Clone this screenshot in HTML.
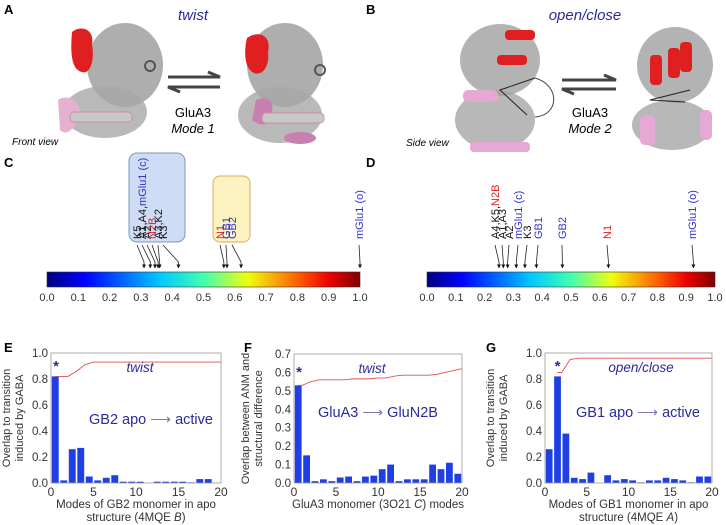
<!DOCTYPE html>
<html><head><meta charset="utf-8">
<style>
html,body{margin:0;padding:0;background:#fff;}
svg{display:block;font-family:"Liberation Sans",Arial,sans-serif;}
</style></head>
<body>
<svg id="fig" width="726" height="525" viewBox="0 0 726 525">
<defs>
<linearGradient id="jet" x1="0" x2="1" y1="0" y2="0">
<stop offset="0" stop-color="#00007f"/><stop offset="0.12" stop-color="#0000ff"/>
<stop offset="0.36" stop-color="#00c8ff"/><stop offset="0.5" stop-color="#40ffb0"/>
<stop offset="0.64" stop-color="#f0ff10"/><stop offset="0.8" stop-color="#ff6000"/>
<stop offset="0.9" stop-color="#ee0000"/><stop offset="1" stop-color="#7f0000"/>
</linearGradient>
<marker id="ah" viewBox="0 0 10 10" refX="9" refY="5" markerWidth="5" markerHeight="5" orient="auto"><path d="M0,0L10,5L0,10z" fill="#111"/></marker>
</defs>

<g>
<text x="4" y="14" font-size="13" font-weight="bold">A</text>
<text x="193" y="20" font-size="15" font-style="italic" fill="#2a2a9a" text-anchor="middle">twist</text>
<g>
<ellipse cx="125" cy="65" rx="38" ry="42" fill="#9a9a9a" opacity="0.8"/>
<ellipse cx="105" cy="112" rx="42" ry="26" fill="#a8a8a8" opacity="0.8"/>
<path d="M72,32 C80,25 95,28 92,45 C95,60 90,75 82,72 C72,70 70,55 72,32z" fill="#e02020"/>
<path d="M58,100 C65,95 78,98 80,110 C78,125 68,138 60,130z" fill="#e6b0d0"/>
<rect x="70" y="112" width="62" height="10" rx="4" fill="#c8c8c8" stroke="#d090a0"/>
<circle cx="150" cy="66" r="5" fill="none" stroke="#555" stroke-width="2"/>
</g>
<g>
<ellipse cx="285" cy="65" rx="38" ry="42" fill="#9a9a9a" opacity="0.8"/>
<ellipse cx="280" cy="115" rx="42" ry="28" fill="#a8a8a8" opacity="0.8"/>
<path d="M247,38 C258,30 272,35 268,52 C270,66 262,78 252,72 C244,66 244,50 247,38z" fill="#e02020"/>
<path d="M256,100 C265,95 275,100 272,112 C270,125 262,128 252,120z" fill="#c880b0"/>
<rect x="262" y="113" width="62" height="10" rx="4" fill="#c8c8c8" stroke="#d090a0"/>
<ellipse cx="300" cy="138" rx="16" ry="6" fill="#c880b0"/>
<circle cx="320" cy="70" r="5" fill="none" stroke="#555" stroke-width="2"/>
</g>
<g>
<path d="M168,77 L220,77 L208,72" fill="none" stroke="#444" stroke-width="3"/>
<path d="M220,87 L168,87 L180,92" fill="none" stroke="#444" stroke-width="3"/>
</g>
<text x="193" y="117" font-size="13" text-anchor="middle">GluA3</text>
<text x="193" y="133" font-size="13" font-style="italic" text-anchor="middle">Mode 1</text>
<text x="12" y="145" font-size="10" font-style="italic">Front view</text>
</g>

<g>
<text x="366" y="14" font-size="13" font-weight="bold">B</text>
<text x="585" y="20" font-size="15" font-style="italic" fill="#2a2a9a" text-anchor="middle">open/close</text>
<g>
<ellipse cx="500" cy="60" rx="40" ry="36" fill="#9a9a9a" opacity="0.75"/>
<ellipse cx="495" cy="120" rx="40" ry="30" fill="#a0a0a0" opacity="0.75"/>
<rect x="505" y="30" width="30" height="10" rx="4" fill="#e02020"/>
<rect x="497" y="55" width="30" height="10" rx="4" fill="#e02020"/>
<rect x="463" y="90" width="35" height="12" rx="5" fill="#e6a8d4"/>
<rect x="470" y="142" width="60" height="10" rx="4" fill="#e6a8d4"/>
<path d="M535,78 L500,90 L527,115" fill="none" stroke="#222"/>
<path d="M535,78 C560,85 560,115 535,117" fill="none" stroke="#444"/>
</g>
<g>
<ellipse cx="675" cy="65" rx="38" ry="38" fill="#9a9a9a" opacity="0.75"/>
<ellipse cx="672" cy="125" rx="40" ry="25" fill="#a0a0a0" opacity="0.75"/>
<rect x="650" y="55" width="12" height="30" rx="4" fill="#e02020"/>
<rect x="668" y="48" width="12" height="30" rx="4" fill="#e02020"/>
<rect x="680" y="42" width="12" height="30" rx="4" fill="#e02020"/>
<rect x="640" y="115" width="15" height="30" rx="5" fill="#e6a8d4"/>
<rect x="700" y="110" width="12" height="30" rx="5" fill="#e6a8d4"/>
<path d="M690,90 L650,100 L685,102" fill="none" stroke="#222"/>
</g>
<g>
<path d="M562,80 L616,80 L604,75" fill="none" stroke="#444" stroke-width="3"/>
<path d="M616,89 L562,89 L574,94" fill="none" stroke="#444" stroke-width="3"/>
</g>
<text x="590" y="117" font-size="13" text-anchor="middle">GluA3</text>
<text x="590" y="133" font-size="13" font-style="italic" text-anchor="middle">Mode 2</text>
<text x="406" y="146" font-size="10" font-style="italic">Side view</text>
</g>

<text x="4" y="167" font-size="13" font-weight="bold">C</text>
<text x="366" y="167" font-size="13" font-weight="bold">D</text>
<rect x="129" y="153" width="56" height="89" rx="8" fill="#cfdcf5" stroke="#7a9ab8"/>
<rect x="213" y="176" width="37" height="66" rx="7" fill="#fdf3c0" stroke="#e0a860"/>
<rect x="47" y="272" width="313" height="15" fill="url(#jet)" stroke="#333" stroke-width="0.6"/>
<rect x="427" y="272" width="288" height="15" fill="url(#jet)" stroke="#333" stroke-width="0.6"/>
<g id="cd"></g>
<g id="charts"></g>

<text x="4" y="352" font-size="13" font-weight="bold">E</text>
<text x="244" y="352" font-size="13" font-weight="bold">F</text>
<text x="486" y="352" font-size="13" font-weight="bold">G</text>
</svg>
<script>
const NS="http://www.w3.org/2000/svg";
const cTicks=[0.0,0.1,0.2,0.3,0.4,0.5,0.6,0.7,0.8,0.9,1.0];
const cLabels=[["K5","#111"],["A1,A4,mGlu1 (c)","mix1"],["A2","#111"],["N2B","#e02020"],["A3,K2","#111"],["K3","#111"],["N1","#e02020"],["GB1","#3333cc"],["GB2","#3333cc"],["mGlu1 (o)","#3333cc"]];
const cValues=[0.31,0.33,0.345,0.355,0.36,0.42,0.565,0.575,0.62,1.0];
const cLabelX=[137,142,147,152,158,163,220,226,232,359];
const dLabels=[["A4,K5,N2B","mix2"],["A1,A3","#111"],["A2","#111"],["mGlu1 (c)","#3333cc"],["K3","#111"],["GB1","#3333cc"],["GB2","#3333cc"],["N1","#e02020"],["mGlu1 (o)","#3333cc"]];
const dValues=[0.25,0.265,0.28,0.31,0.34,0.38,0.47,0.63,0.925];
const dLabelX=[495,502,509,518,527,538,562,607,692];

function mk(tag,attrs,parent){const e=document.createElementNS(NS,tag);for(const k in attrs)e.setAttribute(k,attrs[k]);parent.appendChild(e);return e;}
const cd=document.getElementById('cd');
function colorbar(x0,w,vals,labels,lx,name){
  const sx=v=>x0+v*w;
  cTicks.forEach(t=>{const tx=mk('text',{x:sx(t),y:301,'font-size':11,'text-anchor':'middle',fill:'#333'},cd);tx.textContent=t.toFixed(1);
    
    });
  vals.forEach((v,i)=>{
    const ax=sx(v), tx=lx[i];
    const ln=mk('path',{d:`M${tx},245 L${ax},262 L${ax},268`,fill:'none',stroke:'#222','stroke-width':0.8,'marker-end':'url(#ah)'},cd);
    
    
    const t=mk('text',{x:0,y:0,'font-size':11,transform:`translate(${tx+4},239) rotate(-90)`},cd);
    
    
    const [s,c]=labels[i];
    if(c==='mix1'){t.innerHTML='<tspan fill="#111">A1,A4,</tspan><tspan fill="#3333cc">mGlu1 (c)</tspan>';}
    else if(c==='mix2'){t.innerHTML='<tspan fill="#111">A4,K5,</tspan><tspan fill="#e02020">N2B</tspan>';}
    else {t.setAttribute('fill',c);t.textContent=s;}
  });
}
colorbar(47,313,cValues,cLabels,cLabelX,'colorbar-c');
colorbar(427,288,dValues,dLabels,dLabelX,'colorbar-d');

const modes=[1,2,3,4,5,6,7,8,9,10,11,12,13,14,15,16,17,18,19,20];
const barsE=[0.82,0.02,0.26,0.27,0.05,0.02,0.04,0.06,0.01,0.01,0.01,0.0,0.01,0.01,0.01,0.01,0.005,0.03,0.03,0.0];
const cumE=[0.82,0.82,0.86,0.91,0.93,0.93,0.93,0.93,0.93,0.93,0.93,0.93,0.93,0.93,0.93,0.93,0.93,0.93,0.93,0.93];
const barsF=[0.53,0.15,0.01,0.02,0.01,0.03,0.035,0.01,0.035,0.04,0.075,0.1,0.01,0.02,0.02,0.02,0.1,0.075,0.11,0.05];
const cumF=[0.53,0.55,0.56,0.56,0.56,0.56,0.565,0.565,0.565,0.57,0.57,0.58,0.585,0.585,0.585,0.585,0.59,0.60,0.61,0.62];
const barsG=[0.26,0.82,0.38,0.04,0.03,0.08,0.0,0.06,0.02,0.03,0.02,0.005,0.02,0.02,0.04,0.03,0.02,0.005,0.05,0.05];
const cumG=[null,0.85,0.95,0.96,0.96,0.96,0.96,0.96,0.96,0.96,0.96,0.96,0.96,0.96,0.96,0.96,0.96,0.96,0.96,0.96];
const xTicks=[0,5,10,15,20];
const yTicks1=[0.0,0.2,0.4,0.6,0.8,1.0];
const yTicks07=[0.0,0.1,0.2,0.3,0.4,0.5,0.6,0.7];

const ch=document.getElementById('charts');
function chart(o){
  const g=mk('g',{},ch);
  
  
  const {x0,x1,y0,y1,ymax}=o;
  const sx=v=>x0+(v/20)*(x1-x0), sy=v=>y0-(v/ymax)*(y0-y1);
  o.bars.forEach((v,i)=>{
    const m=modes[i];
    const r=mk('rect',{x:sx(m-1)+0.8,y:sy(v),width:sx(1)-sx(0)-1.6,height:sy(0)-sy(v),fill:'#1f3fe6'},g);
    
    
  });
  let d='';o.cum.forEach((v,i)=>{if(v==null)return;d+=(d?'L':'M')+sx(modes[i])+','+sy(v);});
  const first=o.cum.findIndex(v=>v!=null);
  d='M'+sx(modes[first]-0.5)+','+sy(o.cum[first])+d.replace('M','L');
  const p=mk('path',{d,fill:'none',stroke:'#e05050','stroke-width':0.9},g);
  
  
  const ax=mk('rect',{x:x0,y:y1,width:x1-x0,height:y0-y1,fill:'none',stroke:'#999','stroke-width':0.8},g);
  
  
  xTicks.forEach(t=>{const tx=mk('text',{x:sx(t),y:y0+13,'font-size':12,'text-anchor':'middle',fill:'#333'},g);tx.textContent=t;
    
    });
  o.yt.forEach(t=>{const tx=mk('text',{x:x0-3,y:sy(t)+4,'font-size':11.5,'text-anchor':'end',fill:'#333'},g);tx.textContent=t.toFixed(1);
    
    });
  o.xl.forEach((s,i)=>{const tx=mk('text',{x:(x0+x1)/2,y:y0+25+i*13,'font-size':11.5,'text-anchor':'middle',fill:'#333'},g);tx.innerHTML=s;
    
    });
  o.yl.forEach((s,i)=>{const cx=o.ylx+i*13,cy=(y0+y1)/2;const tx=mk('text',{x:cx,y:cy,'font-size':11,'text-anchor':'middle',fill:'#333',transform:`rotate(-90 ${cx} ${cy})`},g);tx.textContent=s;
    
    });
  const st=mk('text',{x:sx(o.starAt),y:sy(o.starY),'font-size':15,'text-anchor':'middle',fill:'#2a2a9a','font-weight':'bold'},g);st.textContent='*';
  
  
  const tw=mk('text',{x:o.twX,y:y1+19,'font-size':13.5,'font-style':'italic',fill:'#2a2a9a','text-anchor':'middle'},g);tw.textContent=o.tw;
  
  
  const tr=mk('text',{x:o.trX,y:o.trY,'font-size':14.5,fill:'#2a2a9a','text-anchor':'middle'},g);tr.innerHTML=o.tr;
  
  
}
chart({name:'chart-e',x0:51,x1:221,y0:483,y1:353,ymax:1.0,bars:barsE,cum:cumE,yt:yTicks1,
  xl:['Modes of GB2 monomer in apo','structure (4MQE <tspan font-style="italic">B</tspan>)'],yl:['Overlap to transition','induced by GABA'],ylx:10,
  starAt:0.6,starY:0.86,tw:'twist',twX:140,tr:'GB2 apo <tspan fill="#7a7ab8">⟶</tspan> active',trX:151,trY:424});
chart({name:'chart-f',x0:294,x1:462,y0:483,y1:354,ymax:0.7,bars:barsF,cum:cumF,yt:yTicks07,
  xl:['GluA3 monomer (3O21 <tspan font-style="italic">C</tspan>) modes'],yl:['Overlap between ANM and','structural difference'],ylx:249,
  starAt:0.6,starY:0.575,tw:'twist',twX:372,tr:'GluA3 <tspan fill="#7a7ab8">⟶</tspan> GluN2B',trX:378,trY:417});
chart({name:'chart-g',x0:545,x1:712,y0:483,y1:353,ymax:1.0,bars:barsG,cum:cumG,yt:yTicks1,
  xl:['Modes of GB1 monomer in apo','structure (4MQE <tspan font-style="italic">A</tspan>)'],yl:['Overlap to transition','induced by GABA'],ylx:494,
  starAt:1.5,starY:0.86,tw:'open/close',twX:641,tr:'GB1 apo <tspan fill="#7a7ab8">⟶</tspan> active',trX:638,trY:417});
</script>
</body></html>
